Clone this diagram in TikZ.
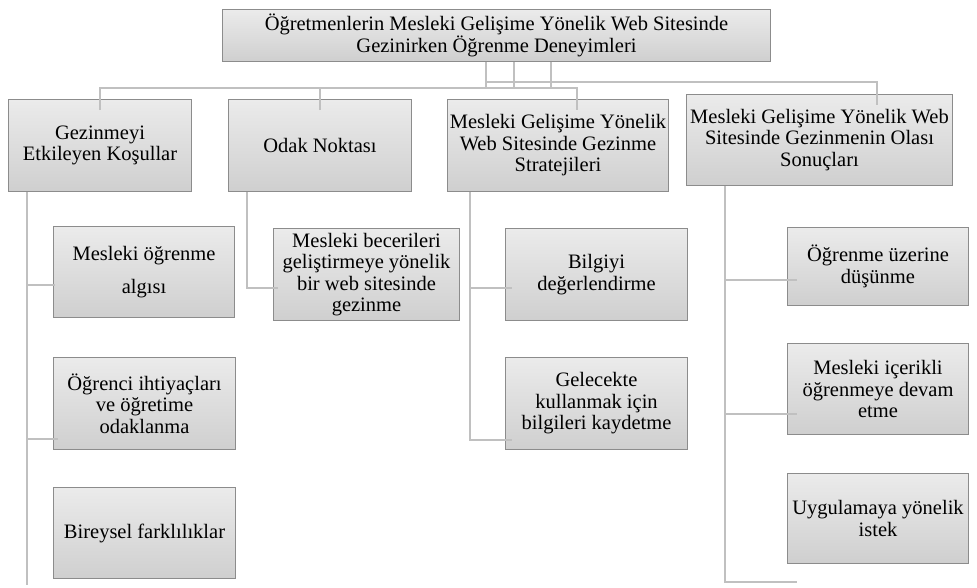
\documentclass[tikz,border=0pt]{standalone}
\usepackage{fontspec}
\setmainfont{Liberation Serif}
\definecolor{boxtop}{HTML}{EBEBEB}
\definecolor{boxbot}{HTML}{CFCFCF}
\definecolor{boxline}{HTML}{8C8C8C}
\definecolor{connc}{HTML}{C0C0C0}
\tikzset{
  box/.style={draw=boxline, line width=1pt, top color=boxtop, bottom color=boxbot,
    anchor=north west, inner sep=0pt, align=center,
    font=\fontsize{20.5}{21.5}\selectfont},
  conn/.style={draw=connc, line width=2.4pt}
}
\begin{document}
\begin{tikzpicture}[x=1pt,y=-1pt]
\useasboundingbox (0,0) rectangle (977,587);
% top level
\node[box, minimum width=548pt, minimum height=52pt] (title) at (222,9)
  {Öğretmenlerin Mesleki Gelişime Yönelik Web Sitesinde\\Gezinirken Öğrenme Deneyimleri};
% second level
\node[box, minimum width=183pt, minimum height=92pt] (g1) at (8,99) {Gezinmeyi\\Etkileyen Koşullar};
\node[box, minimum width=183pt, minimum height=92pt] (g2) at (228,99) {Odak Noktası};
\node[box, minimum width=221pt, minimum height=92pt] (g3) at (447,99) {Mesleki Gelişime Yönelik\\Web Sitesinde Gezinme\\Stratejileri};
\node[box, minimum width=266pt, minimum height=91pt] (g4) at (686,94) {Mesleki Gelişime Yönelik Web\\Sitesinde Gezinmenin Olası\\Sonuçları};
% third level
\node[box, minimum width=181pt, minimum height=91pt] (c11) at (53,226) {Mesleki öğrenme\\[12pt]algısı};
\node[box, minimum width=182pt, minimum height=92pt] (c12) at (53,357) {Öğrenci ihtiyaçları\\ve öğretime\\odaklanma};
\node[box, minimum width=182pt, minimum height=91pt] (c13) at (53,487) {Bireysel farklılıklar};
\node[box, minimum width=186pt, minimum height=92pt] (c21) at (273,228) {Mesleki becerileri\\geliştirmeye yönelik\\bir web sitesinde\\gezinme};
\node[box, minimum width=182pt, minimum height=92pt] (c31) at (505,228) {Bilgiyi\\değerlendirme};
\node[box, minimum width=182pt, minimum height=92pt] (c32) at (505,357) {Gelecekte\\kullanmak için\\bilgileri kaydetme};
\node[box, minimum width=181pt, minimum height=78pt] (c41) at (787,227) {Öğrenme üzerine\\düşünme};
\node[box, minimum width=181pt, minimum height=91pt] (c42) at (787,343) {Mesleki içerikli\\öğrenmeye devam\\etme};
\node[box, minimum width=181pt, minimum height=90pt] (c43) at (787,473) {Uygulamaya yönelik\\istek};
% junction coordinates
\coordinate (a1) at (486,88);
\coordinate (a2) at (514,88);
\coordinate (a3) at (551,88);
\coordinate (b1) at (486,82);
\coordinate (d1) at (100,110);
\coordinate (d2) at (320,110);
\coordinate (d3) at (577,110);
\coordinate (d4) at (877,105);
% connectors from the title
\draw[conn] (title.south -| a1) -- (a1);
\draw[conn] (title.south -| a2) -- (a2);
\draw[conn] (title.south -| a3) -- (a3);
\draw[conn] (d1) -- (d1 |- a1) -- (a1 -| d3) -- (d3);
\draw[conn] (d2) -- (d2 |- a1);
\draw[conn] (b1) -- (b1 -| d4) -- (d4);
% column 1
\coordinate (e1) at (27,585);
\coordinate (h11) at (27,285);
\coordinate (h12) at (27,439);
\draw[conn] (g1.south -| e1) -- (e1);
\draw[conn] (h11) -- ([xshift=2pt]h11 -| c11.west);
\draw[conn] (h12) -- ([xshift=5pt]h12 -| c12.west);
% column 2
\coordinate (h21) at (247,288);
\draw[conn] (g2.south -| h21) -- (h21) -- ([xshift=5pt]h21 -| c21.west);
% column 3
\coordinate (h31) at (470,288);
\coordinate (h32) at (470,440);
\draw[conn] (g3.south -| h32) -- (h32) -- ([xshift=7pt]h32 -| c32.west);
\draw[conn] (h31) -- ([xshift=7pt]h31 -| c31.west);
% column 4
\coordinate (h41) at (725,280);
\coordinate (h42) at (725,414);
\coordinate (h43) at (725,582);
\coordinate (t43) at (797,582);
\draw[conn] (g4.south -| h43) -- (h43) -- (t43);
\draw[conn] (h41) -- ([xshift=10pt]h41 -| c41.west);
\draw[conn] (h42) -- ([xshift=10pt]h42 -| c42.west);
\end{tikzpicture}
\end{document}
